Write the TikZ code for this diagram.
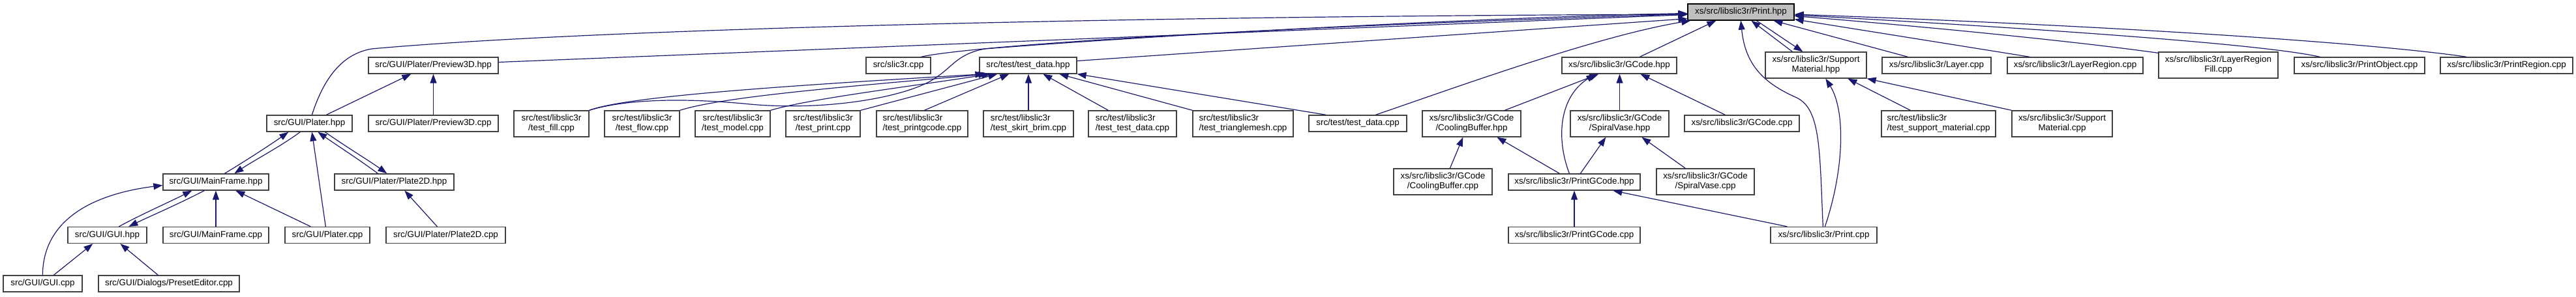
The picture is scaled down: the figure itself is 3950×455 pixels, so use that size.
\documentclass[tikz,border=0pt]{standalone}
\usepackage{fontspec}
\setmainfont{Liberation Sans}
\usetikzlibrary{arrows.meta,calc}
\definecolor{edgecol}{HTML}{191970}
\definecolor{boxcol}{HTML}{404040}
\definecolor{rootfill}{HTML}{BFBFBF}
\newcommand\nodefont{\fontsize{6.7}{7.5}\selectfont}
\tikzset{
  nbox/.style={draw=boxcol, line width=0.65pt, fill=white, inner sep=0pt, minimum height=12.5pt, font=\nodefont},
  two/.style={nbox, minimum height=20pt, align=center},
  twol/.style={nbox, minimum height=20pt, align=left},
  bw/.style={minimum width=#1*0.5pt},
  rootbox/.style={nbox, fill=rootfill, draw=black},
  dep/.style={draw=edgecol, line width=0.6pt, -{Triangle[length=7pt,width=5pt]}},
}
\begin{document}
\begin{tikzpicture}[x=0.5pt,y=-0.5pt]
\fill[white] (0,0) rectangle (3950,455);
\useasboundingbox (0,0) rectangle (3950,455);

% row 0
\node[rootbox,bw=163] (print) at (2669.5,18.5) {xs/src/libslic3r/Print.hpp};
% row 1
\node[nbox,bw=199] (prev3dh) at (664.5,100.5) {src/GUI/Plater/Preview3D.hpp};
\node[nbox,bw=99] (slic3r) at (1377.5,100.5) {src/slic3r.cpp};
\node[nbox,bw=149] (tdh) at (1576.5,100.5) {src/test/test\_data.hpp};
\node[nbox,bw=176] (gcodeh) at (2483,100.5) {xs/src/libslic3r/GCode.hpp};
\node[two,bw=155] (smh) at (2784.5,100) {xs/src/libslic3r/Support\\Material.hpp};
\node[nbox,bw=167] (layer) at (2969.5,100.5) {xs/src/libslic3r/Layer.cpp};
\node[nbox,bw=208] (lreg) at (3182,100.5) {xs/src/libslic3r/LayerRegion.cpp};
\node[two,bw=183] (lregfill) at (3401.5,100) {xs/src/libslic3r/LayerRegion\\Fill.cpp};
\node[nbox,bw=200] (pobj) at (3618,100.5) {xs/src/libslic3r/PrintObject.cpp};
\node[nbox,bw=203] (preg) at (3843.5,100.5) {xs/src/libslic3r/PrintRegion.cpp};
% row 2
\node[nbox,bw=131] (platerh) at (474.5,189.5) {src/GUI/Plater.hpp};
\node[nbox,bw=199] (prev3dc) at (664.5,189.5) {src/GUI/Plater/Preview3D.cpp};
\node[two,bw=115] (tfill) at (845.5,190) {src/test/libslic3r\\/test\_fill.cpp};
\node[two,bw=115] (tflow) at (984.5,190) {src/test/libslic3r\\/test\_flow.cpp};
\node[two,bw=115] (tmodel) at (1123.5,190) {src/test/libslic3r\\/test\_model.cpp};
\node[two,bw=114] (tprint) at (1262,190) {src/test/libslic3r\\/test\_print.cpp};
\node[twol,bw=140] (tpgc) at (1414,190) {src/test/libslic3r\\/test\_printgcode.cpp};
\node[twol,bw=138] (tskirt) at (1577,190) {src/test/libslic3r\\/test\_skirt\_brim.cpp};
\node[twol,bw=135] (ttd) at (1736.5,190) {src/test/libslic3r\\/test\_test\_data.cpp};
\node[twol,bw=154] (ttm) at (1906,190) {src/test/libslic3r\\/test\_trianglemesh.cpp};
\node[nbox,bw=150] (tdc) at (2082,189.5) {src/test/test\_data.cpp};
\node[two,bw=151] (cbh) at (2256.5,190) {xs/src/libslic3r/GCode\\/CoolingBuffer.hpp};
\node[two,bw=151] (svh) at (2483.5,190) {xs/src/libslic3r/GCode\\/SpiralVase.hpp};
\node[nbox,bw=176] (gcodec) at (2671,189.5) {xs/src/libslic3r/GCode.cpp};
\node[twol,bw=175] (tsm) at (2972.5,190) {src/test/libslic3r\\/test\_support\_material.cpp};
\node[two,bw=154] (smc) at (3162,190) {xs/src/libslic3r/Support\\Material.cpp};
% row 3
\node[nbox,bw=162] (mfh) at (331,279.5) {src/GUI/MainFrame.hpp};
\node[nbox,bw=183] (p2dh) at (604.5,279.5) {src/GUI/Plater/Plate2D.hpp};
\node[two,bw=151] (cbc) at (2212.5,279) {xs/src/libslic3r/GCode\\/CoolingBuffer.cpp};
\node[nbox,bw=202] (pgch) at (2414,279.5) {xs/src/libslic3r/PrintGCode.hpp};
\node[two,bw=150] (svc) at (2615,279) {xs/src/libslic3r/GCode\\/SpiralVase.cpp};
% row 4
\node[nbox,bw=121] (guih) at (164.5,361) {src/GUI/GUI.hpp};
\node[nbox,bw=162] (mfc) at (331,361) {src/GUI/MainFrame.cpp};
\node[nbox,bw=130] (platerc) at (502,361) {src/GUI/Plater.cpp};
\node[nbox,bw=183] (p2dc) at (683.5,361) {src/GUI/Plater/Plate2D.cpp};
\node[nbox,bw=202] (pgcc) at (2414,361) {xs/src/libslic3r/PrintGCode.cpp};
\node[nbox,bw=163] (printc) at (2796.5,361) {xs/src/libslic3r/Print.cpp};
% row 5
\node[nbox,bw=121] (guic) at (65.5,435.5) {src/GUI/GUI.cpp};
\node[nbox,bw=216] (preset) at (259,435.5) {src/GUI/Dialogs/PresetEditor.cpp};

% ---- left part
\draw[dep] ($(platerh.north west)+(92,0)$) -- ($(prev3dh.south west)+(66,0)$);
\draw[dep] (prev3dc.north) -- (prev3dh.south);
\draw[dep] ($(mfh.north west)+(95,0)$) .. controls (375,248) and (415,222) .. ($(platerh.south west)+(34,0)$);
\draw[dep] ($(platerh.south west)+(52,0)$) .. controls (430,225) and (390,246) .. ($(mfh.north west)+(110,0)$);
\draw[dep] ($(platerc.north west)+(63,0)$) -- ($(platerh.south west)+(70,0)$);
\draw[dep] ($(p2dh.north west)+(67,0)$) .. controls (555,248) and (515,222) .. ($(platerh.south west)+(79,0)$);
\draw[dep] ($(platerh.south west)+(90,0)$) .. controls (530,225) and (565,246) .. ($(p2dh.north west)+(81,0)$);
\draw[dep] ($(guic.north west)+(61,0)$) .. controls (66,333) and (150,297) .. ($(mfh.west)+(0,5)$);
\draw[dep] ($(guih.north west)+(79,0)$) .. controls (215,330) and (260,310) .. ($(mfh.south west)+(45,0)$);
\draw[dep] ($(mfh.south west)+(64,0)$) .. controls (270,315) and (230,332) .. ($(guih.north west)+(94,0)$);
\draw[dep] (mfc.north) -- (mfh.south);
\draw[dep] ($(platerc.north west)+(40,0)$) -- ($(mfh.south west)+(112,0)$);
\draw[dep] ($(guic.north west)+(78,0)$) -- ($(guih.south west)+(39,0)$);
\draw[dep] ($(preset.north west)+(92,0)$) -- ($(guih.south west)+(81,0)$);
\draw[dep] ($(p2dc.north west)+(79,0)$) -- ($(p2dh.south west)+(108,0)$);

% ---- long edges to Print.hpp from the left
\draw[dep] ($(platerh.north west)+(70,0)$) .. controls (498,115) and (528,82) .. (570,75)
  .. controls (900,45) and (1700,25) .. ($(print.west)+(0,3.5)$);
\draw[dep] ($(prev3dh.east)+(0,-5)$) -- ($(print.west)+(0,4)$);
\draw[dep] ($(slic3r.north west)+(85,0)$) .. controls (1450,78) and (1700,50) .. ($(print.west)+(0,3)$);
\draw[dep] (tfill.north east) .. controls (960,152) and (1050,150) .. (1150,160)
  .. controls (1260,170) and (1370,152) .. (1420,128)
  .. controls (1460,108) and (1462,84) .. (1510,75)
  .. controls (1800,52) and (2300,26) .. ($(print.west)+(0,2)$);
\draw[dep] ($(tdh.east)+(0,-7)$) -- ($(print.south west)+(0,-3)$);
\draw[dep] ($(tdc.north west)+(103,0)$) .. controls (2230,135) and (2450,55) .. ($(print.south west)+(5,0)$);

% ---- test files to test_data.hpp
\draw[dep] (tfill.north east) .. controls (960,148) and (1200,132) .. ($(tdh.south west)+(8,0)$);
\draw[dep] (tflow.north east) .. controls (1110,148) and (1300,133) .. ($(tdh.south west)+(13,0)$);
\draw[dep] (tmodel.north east) .. controls (1240,152) and (1380,135) .. ($(tdh.south west)+(18,0)$);
\draw[dep] (tprint.north east) -- ($(tdh.south west)+(28,0)$);
\draw[dep] ($(tpgc.north west)+(74,0)$) -- ($(tdh.south west)+(46,0)$);
\draw[dep] (tskirt.north) -- (tskirt.north |- tdh.south);
\draw[dep] ($(ttd.north west)+(31,0)$) -- ($(tdh.south west)+(98,0)$);
\draw[dep] (ttm.north west) -- ($(tdh.south west)+(123,0)$);
\draw[dep] ($(tdc.north west)+(27,0)$) -- (tdh.south east);

% ---- GCode group
\draw[dep] ($(gcodeh.north west)+(120,0)$) -- ($(print.south west)+(44,0)$);
\draw[dep] ($(gcodec.north west)+(63,0)$) -- ($(gcodeh.south west)+(121,0)$);
\draw[dep] ($(cbh.north west)+(127,0)$) -- ($(gcodeh.south west)+(57,0)$);
\draw[dep] ($(pgch.north west)+(94,0)$) .. controls (2385,210) and (2392,148) .. ($(gcodeh.south west)+(52,0)$);
\draw[dep] (svh.north) -- (svh.north |- gcodeh.south);
\draw[dep] ($(cbc.north west)+(87,0)$) -- ($(cbh.south west)+(63,0)$);
\draw[dep] ($(pgch.north west)+(79,0)$) -- ($(cbh.south west)+(115,0)$);
\draw[dep] ($(pgch.north west)+(111,0)$) -- ($(svh.south west)+(55,0)$);
\draw[dep] ($(svc.north west)+(45,0)$) -- ($(svh.south west)+(110,0)$);
\draw[dep] (pgcc.north) -- (pgch.south);
\draw[dep] ($(printc.north west)+(26,0)$) -- ($(pgch.south west)+(161,0)$);

% ---- Print.cpp / SupportMaterial
\draw[dep] ($(printc.north west)+(81,0)$) .. controls (2790,230) and (2792,168) .. (2755,150)
  .. controls (2705,128) and (2676,100) .. ($(print.south west)+(82,0)$);
\draw[dep] ($(printc.north west)+(84,0)$) .. controls (2828,260) and (2830,170) .. ($(smh.south west)+(93,0)$);
\draw[dep] ($(smh.north west)+(42,0)$) -- ($(print.south west)+(98,0)$);
\draw[dep] ($(print.south west)+(106,0)$) -- ($(smh.north west)+(58,0)$);
\draw[dep] (smc.north west) -- (smh.south east);
\draw[dep] ($(tsm.north west)+(45,0)$) -- ($(smh.south west)+(127,0)$);

% ---- right side to Print.hpp
\draw[dep] ($(layer.north west)+(40,0)$) -- ($(print.south west)+(132,0)$);
\draw[dep] ($(lreg.north west)+(35,0)$) -- ($(print.south east)+(0,-2)$);
\draw[dep] ($(lregfill.north west)+(0,2)$) .. controls (3200,66) and (3000,45) .. ($(print.east)+(0,6)$);
\draw[dep] ($(pobj.north west)+(40,0)$) .. controls (3480,70) and (3200,48) .. ($(print.east)+(0,4.5)$);
\draw[dep] ($(preg.north west)+(41,0)$) .. controls (3650,68) and (3300,42) .. ($(print.east)+(0,3.5)$);
\end{tikzpicture}
\end{document}
